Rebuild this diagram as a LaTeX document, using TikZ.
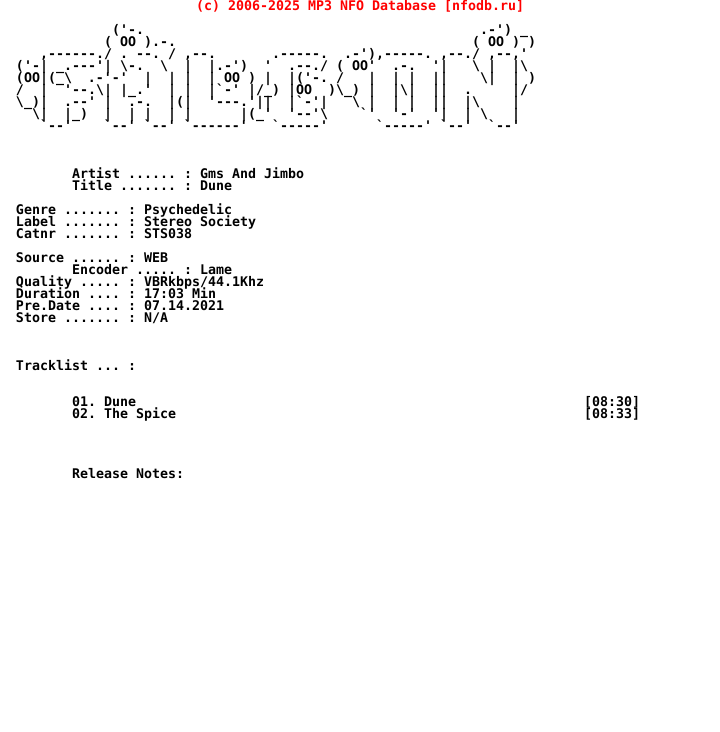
\documentclass[tikz,border=0pt]{standalone}
\usepackage{fontspec}
\newfontfamily\nfofont{DejaVu Sans Mono}
\newcommand{\bs}{\textbackslash}
\newcommand{\nfogap}[1]{\kern#1\dimexpr8pt\relax}
\tikzset{
	nfo/.style={anchor=base west,inner sep=0pt,outer sep=0pt,yshift=-10pt,font=\frenchspacing\nfofont\bfseries\fontsize{13.29}{12}\selectfont},
	header/.style={nfo,text=red}
}
\begin{document}
\begin{tikzpicture}[x=8pt,y=-12pt]
	\useasboundingbox (0,0) rectangle (90,61);
	\node (head) at (24.5,0) [header] {(c) 2006-2025 MP3 NFO Database [nfodb.ru]};

	\node (art2) at (14,2) [nfo] {('-.\nfogap{42}.-')~\_};
	\node (art3) at (13,3) [nfo] {(~OO~).-.\nfogap{37}(~OO~)~)};
	\node (art4) at (5,4) [nfo] {,------./~.~--.~/~,--.\nfogap{7}.-----.\nfogap{2}.-'),-----.~,--./~,--,'};
	\node (art5) at (2,5) [nfo] {('-|~\_.---'|~\bs-.~~\bs\nfogap{2}|~~|.-')\nfogap{2}'~~.--./\nfogap{1}(~OO'~~.-.~~'|~~~\bs~|~~|\bs};
	\node (art6) at (2,6) [nfo] {(OO|(\_\bs\nfogap{2}.-'-'~~|~~|\nfogap{1}|~~|~OO~)\nfogap{1}|~~|('-.\nfogap{1}/~~~|~~|~|~~||~~~~\bs|~~|~)};
	\node (art7) at (2,7) [nfo] {/~~|~~'--.\bs|~|\_.'~~|\nfogap{1}|~~|`-'~|/\_)~|OO~~)\bs\_)~|~~|\bs|~~||~~.~~~~~|/};
	\node (art8) at (2,8) [nfo] {\bs\_)|~~.--'~|~~.-.~~|(|~~'---.'||~~|`-'|\nfogap{3}\bs~|~~|~|~~||~~|\bs~~~~|};
	\node (art9) at (4,9) [nfo] {\bs|~~|\_)\nfogap{2}|~~|~|~~|\nfogap{1}|~~~~~~|(\_'~~'--'\bs\nfogap{4}`'~~'-'~~'|~~|~\bs~~~|};
	\node (art10) at (5,10) [nfo] {`--'\nfogap{4}`--'~`--'\nfogap{1}`------'\nfogap{3}`-----'\nfogap{6}`-----'\nfogap{1}`--'~~`--'};

	\node (artist) at (9,14) [nfo] {Artist ...... : Gms And Jimbo};
	\node (title) at (9,15) [nfo] {Title ....... : Dune};

	\node (genre) at (2,17) [nfo] {Genre ....... : Psychedelic};
	\node (label) at (2,18) [nfo] {Label ....... : Stereo Society};
	\node (catnr) at (2,19) [nfo] {Catnr ....... : STS038};

	\node (source) at (2,21) [nfo] {Source ...... : WEB};
	\node (encoder) at (9,22) [nfo] {Encoder ..... : Lame};
	\node (quality) at (2,23) [nfo] {Quality ..... : VBRkbps/44.1Khz};
	\node (duration) at (2,24) [nfo] {Duration .... : 17:03 Min};
	\node (predate) at (2,25) [nfo] {Pre.Date .... : 07.14.2021};
	\node (store) at (2,26) [nfo] {Store ....... : N/A};

	\node (tracklist) at (2,30) [nfo] {Tracklist ... :};
	\node (trackA) at (9,33) [nfo] {01. Dune};
	\node (timeA) at (73,33) [nfo] {[08:30]};
	\node (trackB) at (9,34) [nfo] {02. The Spice};
	\node (timeB) at (73,34) [nfo] {[08:33]};

	\node (notes) at (9,39) [nfo] {Release Notes:};
\end{tikzpicture}
\end{document}
